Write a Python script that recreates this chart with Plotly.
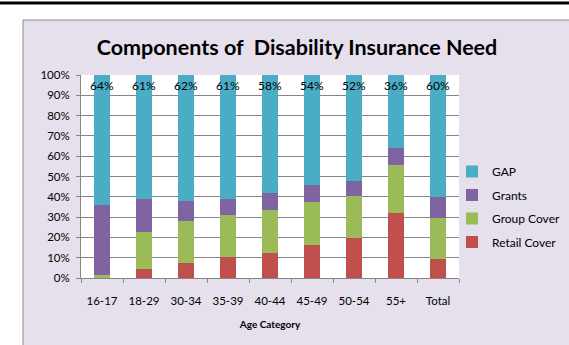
import plotly.graph_objects as go

# Age bands and the share of the need covered by each component (fractions of 1)
categories = ["16-17", "18-29", "30-34", "35-39", "40-44", "45-49", "50-54", "55+", "Total"]
retail_cover = [0.000, 0.046, 0.075, 0.102, 0.122, 0.163, 0.199, 0.319, 0.095]
group_cover = [0.015, 0.182, 0.205, 0.208, 0.213, 0.210, 0.207, 0.238, 0.199]
grants = [0.345, 0.162, 0.100, 0.080, 0.085, 0.087, 0.074, 0.083, 0.106]
gap = [0.64, 0.61, 0.62, 0.61, 0.58, 0.54, 0.52, 0.36, 0.60]

# y tick positions; gridlines only on the inner ones
y_ticks = [0.0, 0.1, 0.2, 0.3, 0.4, 0.5, 0.6, 0.7, 0.8, 0.9, 1.0]
grid_ticks = y_ticks[1:-1]

# stacking order bottom to top, with legend rank (GAP listed first)
series = [
    ("Retail Cover", retail_cover, "#C0504D", 4),
    ("Group Cover", group_cover, "#9BBB59", 3),
    ("Grants", grants, "#8064A2", 2),
    ("GAP", gap, "#4BACC6", 1),
]

W, H = 569, 345
L, R, T, B = 81, 110, 75, 67
pw, ph = W - L - R, H - T - B

def px(x):
    return (x - L) / pw

def py(y):
    return (H - B - y) / ph

fig = go.Figure()
for name, vals, color, rank in series:
    is_gap = name == "GAP"
    fig.add_trace(go.Bar(
        x=categories,
        y=vals,
        name=name,
        legendgroup=name,
        legendrank=rank,
        marker=dict(color=color, line=dict(width=0)),
        text=[f"{v:.0%}" for v in vals] if is_gap else None,
        textposition="inside" if is_gap else "none",
        insidetextanchor="end",
        textangle=0,
        constraintext="none",
        insidetextfont=dict(color="#000000", size=12, family="Lato"),
        cliponaxis=False,
    ))

shapes = [
    # white strips outside the chart frame
    dict(type="rect", xref="paper", yref="paper", x0=px(0), x1=3, y0=py(20), y1=py(0),
         fillcolor="white", line=dict(width=0), layer="above"),
    dict(type="rect", xref="paper", yref="paper", x0=px(0), x1=px(23), y0=py(H), y1=py(0),
         fillcolor="white", line=dict(width=0), layer="above"),
    # chart frame edges
    dict(type="line", xref="paper", yref="paper", x0=px(23), x1=3, y0=py(20), y1=py(20),
         line=dict(color="#8C8C8C", width=1), layer="above"),
    dict(type="line", xref="paper", yref="paper", x0=px(23), x1=px(23), y0=py(20), y1=py(H),
         line=dict(color="#8C8C8C", width=1), layer="above"),
    # heavy rule across the top
    dict(type="line", xref="paper", yref="paper", x0=px(0), x1=3, y0=py(3), y1=py(3),
         line=dict(color="#000000", width=3), layer="above"),
]

fig.update_layout(
    width=W, height=H,
    margin=dict(l=L, r=R, t=T, b=B, autoexpand=False),
    paper_bgcolor="#E5E0EC",
    plot_bgcolor="#FFFFFF",
    barmode="stack",
    bargap=0.62,
    font=dict(family="Lato", size=11, color="#000000"),
    title=dict(
        text="<b>Components of  Disability Insurance Need</b>",
        x=297 / W, xanchor="center", xref="container",
        y=1 - 47 / H, yanchor="middle", yref="container",
        font=dict(family="Lato", size=21.5, color="#000000"),
    ),
    legend=dict(
        x=px(452), xanchor="left", y=py(157), yanchor="top",
        bgcolor="rgba(0,0,0,0)",
        font=dict(family="Lato", size=12, color="#000000"),
        traceorder="grouped",
        tracegroupgap=4.5,
        itemwidth=30,
    ),
    xaxis=dict(
        type="category",
        showline=True, linecolor="#868686", linewidth=1,
        ticks="outside", ticklen=4, tickcolor="#868686", tickson="boundaries",
        tickangle=0,
        tickfont=dict(size=11.5, family="Lato"),
        ticklabelstandoff=12,
        title=dict(text="<b>Age Category</b>", font=dict(size=10, family="Lato"), standoff=15),
        showgrid=False,
    ),
    yaxis=dict(
        range=[0, 1], tickvals=y_ticks, tickformat=".0%",
        showline=True, linecolor="#868686", linewidth=1,
        ticks="outside", ticklen=4, tickcolor="#868686",
        showgrid=False,
        zeroline=False,
        tickfont=dict(size=11.5, family="Lato"),
        ticklabelstandoff=4,
        minor=dict(tickvals=grid_ticks, showgrid=True, gridcolor="#868686",
                   gridwidth=1, ticks=""),
    ),
    shapes=shapes,
)

fig.write_html("out.html", config={"displayModeBar": False})
